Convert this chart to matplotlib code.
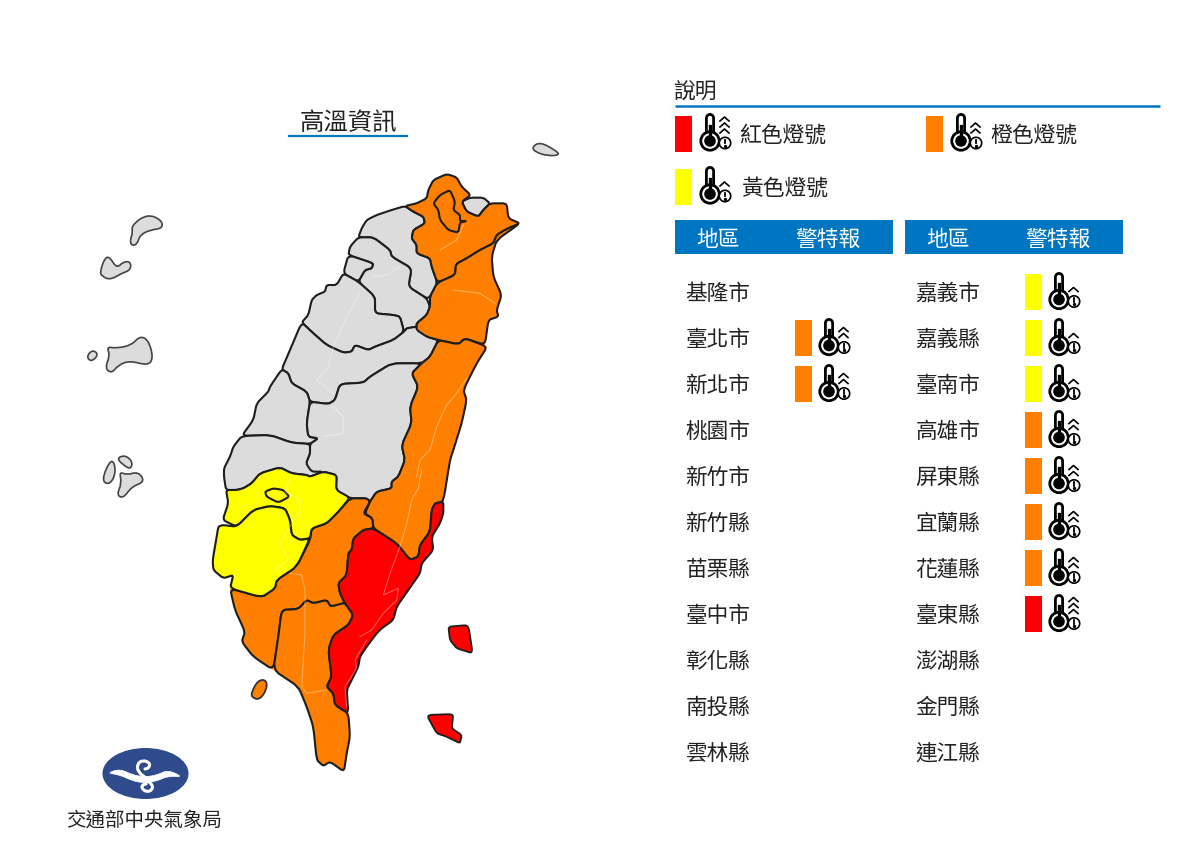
import matplotlib
matplotlib.use('Agg')
import matplotlib.pyplot as plt
from matplotlib.patches import Polygon, Rectangle, Circle, Ellipse, PathPatch
from matplotlib.path import Path

plt.rcParams['font.family'] = ['Noto Sans CJK TC', 'DejaVu Sans']

# table contents
counties_left = ['基隆市', '臺北市', '新北市', '桃園市', '新竹市', '新竹縣', '苗栗縣', '臺中市', '彰化縣', '南投縣', '雲林縣']
levels_left = [None, 'orange', 'orange', None, None, None, None, None, None, None, None]
counties_right = ['嘉義市', '嘉義縣', '臺南市', '高雄市', '屏東縣', '宜蘭縣', '花蓮縣', '臺東縣', '澎湖縣', '金門縣', '連江縣']
levels_right = ['yellow', 'yellow', 'yellow', 'orange', 'orange', 'orange', 'orange', 'red', None, None, None]

COLORS = {'red': '#ff0000', 'orange': '#ff7f00', 'yellow': '#ffff00', None: '#dcdcdc'}
BLUE = '#0075c2'
TEXT = '#222222'
EDGE = '#1e1e1e'


def north(pts):
    return [(200 + x / 3, 160 + y / 3) for x, y in pts]


def south(pts):
    return [(200 + x / 3, 460 + y / 3) for x, y in pts]


def west(pts):
    return [(60 + x / 3, 200 + y / 3) for x, y in pts]


new_taipei = north([(615, 138), (650, 130), (680, 115), (685, 90), (700, 60), (740, 42), (770, 52), (785, 80), (812, 105),
                    (785, 125), (800, 155), (835, 170), (850, 150), (870, 130), (920, 130), (925, 175), (960, 190),
                    (920, 207), (890, 225), (880, 250), (840, 270), (800, 295), (768, 312), (765, 345), (712, 368),
                    (695, 320), (690, 295), (650, 280), (650, 255), (635, 235), (640, 210), (675, 190), (670, 170), (640, 155)])
taipei = north([(750, 90), (765, 125), (760, 150), (780, 165), (780, 183), (800, 183), (780, 187), (775, 218), (745, 210),
                (720, 180), (715, 150), (700, 130), (720, 105)])
keelung = north([(785, 125), (810, 113), (850, 113), (870, 130), (850, 150), (835, 170), (800, 155)])
yilan = north([(960, 190), (920, 207), (890, 225), (880, 250), (840, 270), (800, 295), (768, 312), (765, 345), (712, 368),
               (690, 410), (690, 440), (680, 465), (650, 490), (650, 510), (680, 530), (715, 540), (775, 553), (795, 535),
               (855, 555), (865, 480), (895, 470), (890, 450), (905, 405), (880, 350), (875, 290), (890, 240)])
hualien = north([(715, 540), (775, 553), (795, 535), (862, 560), (830, 610), (790, 690), (800, 720), (785, 790), (760, 870)]) + \
    south([(750, 0), (730, 125), (705, 130), (695, 150), (690, 215), (660, 255), (655, 290), (630, 300), (590, 250), (520, 205),
           (517, 175), (495, 160), (510, 125), (530, 95), (575, 85), (575, 65), (595, 50)]) + \
    north([(615, 900), (605, 855), (635, 790), (630, 740), (655, 680), (635, 640), (665, 610), (690, 590)])
taitung = south([(730, 125), (705, 130), (695, 150), (690, 215), (660, 255), (655, 290), (630, 300), (590, 250), (520, 205),
                 (490, 210), (460, 235), (455, 270), (445, 280), (440, 345), (415, 370), (420, 400), (435, 430), (460, 465),
                 (445, 495), (400, 525), (385, 570), (395, 650), (380, 680), (400, 700), (405, 735), (445, 760), (440, 690),
                 (455, 660), (475, 620), (480, 590), (500, 560), (530, 520), (545, 505), (580, 480), (590, 440), (625, 390),
                 (660, 340), (665, 310), (700, 270), (695, 230), (720, 190), (730, 160)])
pingtung = south([(460, 465), (445, 495), (400, 525), (385, 570), (395, 650), (380, 680), (400, 700), (405, 735), (445, 760),
                  (450, 830), (440, 880), (432, 935), (390, 905), (370, 918), (350, 900), (340, 800), (320, 740), (295, 680),
                  (220, 630), (235, 530), (245, 450), (295, 447), (320, 420), (340, 430), (380, 420), (392, 440), (435, 428)])
kaohsiung = south([(220, 630), (160, 590), (125, 545), (135, 515), (105, 450), (90, 385), (185, 412), (225, 385), (230, 360), (290, 320),
                   (330, 240), (335, 205), (380, 190), (415, 155), (450, 115), (500, 115), (510, 125), (490, 160), (517, 175),
                   (520, 205), (490, 210), (460, 235), (455, 270), (445, 280), (440, 345), (415, 370), (420, 400), (435, 430),
                   (392, 440), (380, 420), (340, 430), (320, 420), (295, 447), (245, 450), (235, 530)])
tainan = south([(90, 385), (100, 345), (70, 355), (40, 330), (38, 300), (50, 230), (55, 200), (68, 195), (110, 200), (160, 150),
                (210, 138), (255, 145), (270, 180), (275, 225), (300, 240), (330, 235), (290, 320), (230, 360), (225, 385), (185, 412)])
chiayi_county = south([(78, 90), (110, 90), (130, 85), (155, 70), (180, 40), (240, 22), (275, 40), (320, 45), (330, 50), (370, 35),
                       (410, 45), (408, 90), (450, 113), (415, 155), (380, 190), (335, 205), (330, 235), (300, 240), (275, 225),
                       (270, 180), (255, 145), (210, 138), (160, 150), (110, 200), (68, 180), (85, 130)])
chiayi_city = south([(195, 95), (220, 85), (250, 90), (268, 110), (235, 128), (200, 110)])
yunlin = north([(125, 828), (210, 825), (275, 848), (330, 852), (330, 880), (318, 910), (335, 935)]) + \
    south([(370, 35), (330, 50), (320, 45), (275, 40), (240, 22), (180, 40), (155, 70), (130, 85), (110, 90), (78, 90), (72, 50)]) + \
    north([(72, 925), (90, 890), (100, 860)])
changhua = north([(245, 628), (265, 640), (275, 670), (320, 695), (330, 725), (320, 790), (325, 830), (355, 835), (330, 852),
                  (275, 848), (210, 825), (125, 828), (160, 780), (170, 730), (205, 695), (210, 680)])
nantou = north([(330, 725), (385, 732), (405, 720), (420, 672), (490, 668), (510, 650), (575, 610), (665, 610), (635, 640),
                (655, 680), (630, 740), (635, 790), (605, 855), (615, 900), (595, 950)]) + \
    south([(575, 65), (575, 85), (530, 95), (510, 125), (500, 115), (450, 115), (408, 90), (410, 45), (370, 35), (330, 50), (320, 35), (318, 10)]) + \
    north([(330, 880), (330, 852), (355, 835), (325, 830), (320, 790)])
taichung = north([(305, 487), (340, 520), (380, 555), (430, 578), (455, 575), (465, 555), (505, 570), (525, 560), (580, 540),
                  (612, 515), (620, 505), (650, 500), (680, 530), (715, 540), (690, 590), (665, 610), (575, 610), (510, 650),
                  (490, 668), (420, 672), (405, 720), (385, 732), (330, 725), (320, 695), (275, 670), (265, 640), (245, 628), (270, 570)])
miaoli = north([(430, 340), (475, 365), (525, 410), (525, 460), (580, 465), (600, 470), (612, 515), (580, 540), (525, 560),
                (505, 570), (465, 555), (455, 575), (430, 578), (380, 555), (340, 520), (305, 487), (325, 465), (335, 420),
                (350, 405), (375, 395), (380, 375), (410, 375)])
hsinchu_city = north([(445, 285), (520, 310), (515, 325), (495, 330), (475, 365), (430, 340)])
hsinchu_county = north([(475, 232), (520, 232), (570, 270), (575, 290), (635, 325), (625, 380), (680, 415), (690, 440), (680, 465),
                        (650, 490), (650, 500), (620, 505), (612, 515), (600, 470), (580, 465), (525, 460), (525, 410), (475, 365),
                        (495, 330), (515, 325), (520, 310), (445, 285), (450, 260)])
taoyuan = north([(615, 138), (575, 150), (530, 165), (500, 180), (485, 205), (475, 232), (520, 232), (570, 270), (575, 290), (635, 325), (625, 380), (680, 415),
                 (690, 410), (712, 368), (695, 320), (690, 295), (650, 280), (650, 255), (635, 235), (640, 210), (675, 190), (670, 170), (640, 155)])

regions = [(taoyuan, None), (hsinchu_county, None), (hsinchu_city, None), (miaoli, None), (taichung, None), (changhua, None),
           (nantou, None), (yunlin, None), (keelung, None), (new_taipei, 'orange'), (taipei, 'orange'), (yilan, 'orange'),
           (hualien, 'orange'), (kaohsiung, 'orange'), (pingtung, 'orange'), (chiayi_county, 'yellow'), (chiayi_city, 'yellow'),
           (tainan, 'yellow'), (taitung, 'red')]

# small islands
penghu = [west([(215, 75), (262, 42), (305, 60), (308, 85), (270, 90), (240, 105), (232, 132), (215, 138), (210, 120), (218, 100)]),
          west([(120, 215), (135, 172), (150, 172), (170, 205), (190, 185), (212, 185), (212, 210), (185, 220), (150, 240), (125, 228)]),
          west([(82, 465), (98, 450), (115, 462), (100, 482), (85, 480)]),
          west([(140, 440), (170, 445), (215, 435), (240, 408), (265, 420), (280, 472), (265, 497), (210, 482), (175, 495), (155, 520), (135, 505), (150, 465)]),
          west([(125, 840), (150, 780), (165, 790), (165, 830), (145, 855)]),
          west([(170, 775), (195, 765), (218, 785), (212, 808), (190, 795)]),
          west([(178, 815), (200, 825), (235, 815), (255, 845), (215, 860), (190, 895), (170, 885), (185, 850)])]
pengjia = [(532, 147), (540, 142), (555, 150), (560, 155), (548, 156), (535, 152)]
liuqiu = south([(155, 695), (175, 660), (200, 660), (200, 690), (178, 720), (155, 712)])
green_island = south([(745, 500), (805, 495), (818, 580), (770, 565), (750, 540)])
orchid_island = south([(680, 765), (760, 762), (755, 805), (785, 825), (780, 850), (740, 830), (710, 820)])

# faint river lines
rivers = [north([(800, 655), (770, 700), (740, 735), (710, 800), (690, 870), (660, 900), (650, 950)]),
          south([(665, 30), (655, 85), (635, 120), (625, 170), (615, 210), (600, 260), (570, 340), (550, 405), (595, 385), (590, 420), (550, 460), (515, 510), (480, 530)]),
          south([(500, 540), (465, 600), (470, 625), (435, 680), (440, 740)]),
          south([(270, 340), (305, 345), (315, 390), (315, 520), (305, 680), (320, 700), (380, 690)]),
          south([(225, 330), (265, 300), (240, 250), (300, 150), (300, 120), (255, 95), (270, 50)]),
          north([(760, 390), (840, 400), (885, 430)]),
          north([(720, 270), (770, 240), (790, 195)]),
          north([(480, 400), (440, 470), (400, 560), (385, 620), (350, 660), (400, 700)]),
          north([(520, 350), (560, 345), (600, 320)]),
          north([(400, 740), (430, 770), (430, 820), (370, 830)])]

# logo swirl
wave = [(107, 773), (120, 769), (133, 775), (145, 777), (157, 775), (168, 770), (183, 777),
        (168, 776), (157, 781), (145, 783), (133, 781), (120, 775)]
curl_up = [(146, 778), (138, 772), (137, 764), (143, 760), (150, 763), (149, 768), (145, 769)]
curl_down = [(146, 780), (153, 785), (152, 790), (147, 792), (142, 789), (142, 785), (146, 784)]


def round_path(pts, frac=0.5, closed=True):
    # cut each corner with a quadratic curve so the outline is not angular
    n = len(pts)
    lerp = lambda a, b, t: (a[0] + (b[0] - a[0]) * t, a[1] + (b[1] - a[1]) * t)
    verts, codes = [], []
    if closed:
        for i in range(n):
            p, a, b = pts[i], pts[i - 1], pts[(i + 1) % n]
            verts += [lerp(p, a, frac / 2), p, lerp(p, b, frac / 2)]
            codes += [Path.LINETO if i else Path.MOVETO, Path.CURVE3, Path.CURVE3]
        verts.append(verts[0])
        codes.append(Path.LINETO)
    else:
        verts.append(pts[0])
        codes.append(Path.MOVETO)
        for i in range(1, n - 1):
            p, a, b = pts[i], pts[i - 1], pts[i + 1]
            verts += [lerp(p, a, frac / 2), p, lerp(p, b, frac / 2)]
            codes += [Path.LINETO, Path.CURVE3, Path.CURVE3]
        verts.append(pts[-1])
        codes.append(Path.LINETO)
    return Path(verts, codes)


def draw_icon(ax, x, y, level):
    # x is the tube centre, y the bulb centre
    ax.plot([x, x], [y - 22.5, y], color='black', lw=7.2, solid_capstyle='round', zorder=5)
    ax.plot([x, x], [y - 22.5, y], color='white', lw=3.2, solid_capstyle='round', zorder=6)
    ax.add_patch(Circle((x, y), 9.2, fc='white', ec='black', lw=2.0, zorder=7))
    ax.add_patch(Circle((x, y), 5.8, fc='black', ec='none', zorder=8))
    ax.plot([x, x], [y - 15, y], color='black', lw=2.4, zorder=8)
    n = {'red': 3, 'orange': 2, 'yellow': 1}[level]
    for i in range(n):
        cy = y - 8 - 6 * i
        ax.plot([x + 10, x + 14.5, x + 19], [cy, cy - 4, cy], color='black', lw=1.2, zorder=6)
    ax.add_patch(Circle((x + 15, y + 2), 5.7, fc='white', ec='black', lw=1.2, zorder=7))
    ax.plot([x + 15, x + 15], [y - 1.2, y + 2.4], color='black', lw=1.3, zorder=8)
    ax.plot([x + 15], [y + 4.8], marker='o', ms=1.4, color='black', zorder=8)


fig = plt.figure(figsize=(12, 8.47), dpi=100)
ax = fig.add_axes([0, 0, 1, 1])
ax.set_xlim(0, 1200)
ax.set_ylim(847, 0)
ax.axis('off')

# map
for outline, level in regions:
    # sharp polygon underneath so the rounded corners leave no white specks
    ax.add_patch(Polygon(outline, closed=True, fc=COLORS[level], ec='none', zorder=1))
for outline, level in regions:
    ax.add_patch(PathPatch(round_path(outline), fc=COLORS[level], ec=EDGE, lw=1.5, joinstyle='round', zorder=2))
for r in rivers:
    xs, ys = zip(*r)
    ax.plot(xs, ys, color='white', lw=0.8, alpha=0.35, zorder=3)
for isl in penghu + [pengjia]:
    ax.add_patch(PathPatch(round_path(isl, frac=1.0), fc=COLORS[None], ec='#444444', lw=1.2, zorder=2))
ax.add_patch(PathPatch(round_path(liuqiu, frac=1.0), fc=COLORS['orange'], ec='#333333', lw=1.3, zorder=2))
ax.add_patch(PathPatch(round_path(green_island, frac=0.4), fc=COLORS['red'], ec=EDGE, lw=1.3, zorder=2))
ax.add_patch(PathPatch(round_path(orchid_island, frac=0.4), fc=COLORS['red'], ec=EDGE, lw=1.3, zorder=2))

# title
ax.text(348, 122.5, '高溫資訊', fontsize=17.6, color=TEXT, ha='center', va='center')
ax.plot([288, 408], [136, 136], color=BLUE, lw=1.6, solid_capstyle='butt')

# logo
ax.add_patch(Ellipse((145.5, 773.5), 86, 51, fc='#2f4b8c', ec='none'))
ax.add_patch(PathPatch(round_path(wave, frac=0.9), fc='white', ec='white', lw=0.5, zorder=3))
for curl in (curl_up, curl_down):
    ax.add_patch(PathPatch(round_path(curl, frac=1.0, closed=False), fc='none', ec='white', lw=2.2, capstyle='round', zorder=3))
ax.text(144.5, 820, '交通部中央氣象局', fontsize=14, color=TEXT, ha='center', va='center')

# legend
ax.text(673.5, 93, '說明', fontsize=15.7, color=TEXT, ha='left', va='center')
ax.plot([675, 1160], [106, 106], color=BLUE, lw=1.8, solid_capstyle='butt')
legend_items = [('red', '紅色燈號', 675, 134, 739), ('orange', '橙色燈號', 926, 134, 990), ('yellow', '黃色燈號', 675, 187, 741)]
for level, label, bx, by, tx in legend_items:
    ax.add_patch(Rectangle((bx, by - 18), 17, 36, fc=COLORS[level], ec='none'))
    draw_icon(ax, bx + 35, by + 7, level)
    ax.text(tx, by + 2, label, fontsize=15.7, color=TEXT, ha='left', va='center')

# table
for x0, names, levels in [(675, counties_left, levels_left), (905, counties_right, levels_right)]:
    ax.add_patch(Rectangle((x0, 220), 218, 34, fc=BLUE, ec='none'))
    ax.text(x0 + 43, 240, '地區', fontsize=15.7, color='white', ha='center', va='center')
    ax.text(x0 + 153, 240, '警特報', fontsize=15.7, color='white', ha='center', va='center')
    for i, (name, level) in enumerate(zip(names, levels)):
        y = 292 + 46 * i
        ax.text(x0 + 10.5, y + 2, name, fontsize=15.6, color=TEXT, ha='left', va='center')
        if level:
            bar_x = x0 + 120
            ax.add_patch(Rectangle((bar_x, y - 18), 17, 36, fc=COLORS[level], ec='none'))
            draw_icon(ax, bar_x + 34, y + 7.5, level)

fig.savefig('out.png', dpi=100)
